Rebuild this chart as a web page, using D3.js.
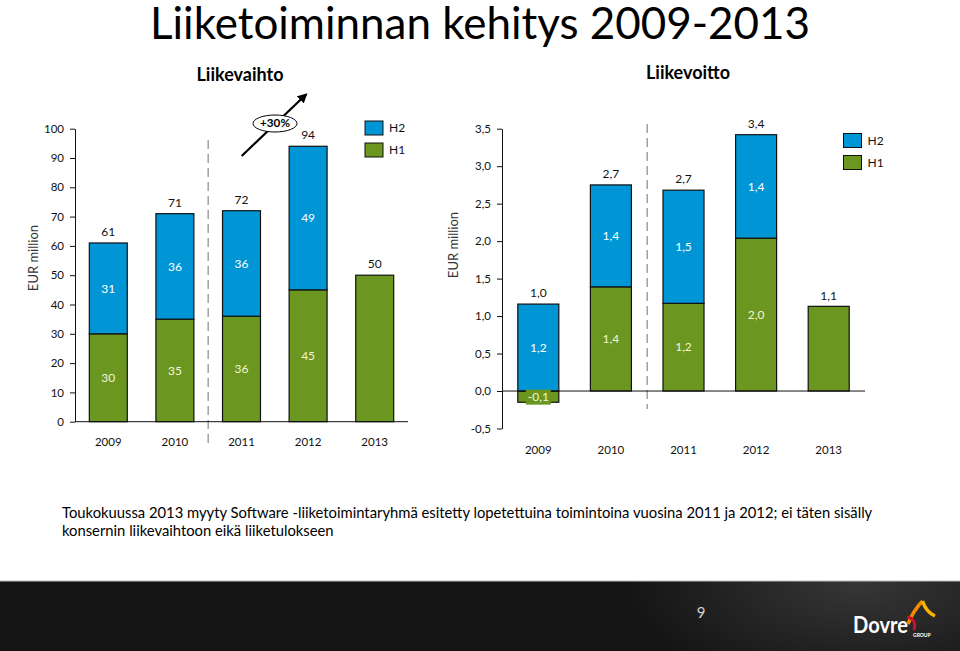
<!doctype html>
<html lang="fi">
<head>
<meta charset="utf-8">
<title>Liiketoiminnan kehitys 2009-2013</title>
<script src="https://cdn.jsdelivr.net/npm/d3@7"></script>
<style>
  html, body { margin: 0; background: #fff; }
  svg { display: block; font-family: Lato, "Open Sans", sans-serif; }
</style>
</head>
<body>
<svg id="chart" width="960" height="651"></svg>
<script>
const years = ["2009", "2010", "2011", "2012", "2013"];

// Liikevaihto, EUR million
const salesH1 = [30, 35, 36, 45, 50];
const salesH2 = [31, 36, 36, 49, 0];
const salesTicks = [0, 10, 20, 30, 40, 50, 60, 70, 80, 90, 100];

// Liikevoitto, EUR million (bar heights as drawn in the original)
const profitH1 = [-0.15, 1.39, 1.17, 2.04, 1.13];
const profitH2 = [1.16, 1.36, 1.51, 1.38, 0];
// printed labels are rounded in the original, so they are kept as text
const profitH1Labels = ["-0,1", "1,4", "1,2", "2,0", ""];
const profitH2Labels = ["1,2", "1,4", "1,5", "1,4", ""];
const profitTotalLabels = ["1,0", "2,7", "2,7", "3,4", "1,1"];
const profitTicks = [-0.5, 0, 0.5, 1, 1.5, 2, 2.5, 3, 3.5];

const BLUE = "#0096d6", GREEN = "#6b961f";
const fi = d3.formatLocale({decimal: ",", thousands: " ", grouping: [3], currency: ["", "€"], minus: "-"});

const svg = d3.select("#chart");

// stretch/shrink font-size so text spans a given width
function fitText(sel, width) {
  const fs = parseFloat(sel.attr("font-size"));
  const w = sel.node().getComputedTextLength();
  sel.attr("font-size", fs * width / w);
  return fs * width / w;
}

function drawPanel(o) {
  const g = svg.append("g");
  const x = d3.scaleBand().domain(years).range(o.xRange).paddingInner(o.pad).paddingOuter(o.pad / 2);
  const y = d3.scaleLinear().domain(o.yDomain).range(o.yRange);

  const rows = years.map((yr, i) => ({year: yr, H1: o.h1[i], H2: o.h2[i]}));
  const series = d3.stack().keys(["H1", "H2"]).offset(d3.stackOffsetDiverging)(rows);

  // dashed separator between 2010 and 2011
  const dashX = (x("2010") + x.bandwidth() + x("2011")) / 2;
  g.append("line")
      .attr("x1", dashX).attr("x2", dashX)
      .attr("y1", o.dashY[0]).attr("y2", o.dashY[1])
      .attr("stroke", "#a0a0a0").attr("stroke-width", 1.5)
      .attr("stroke-dasharray", "9,5");

  g.selectAll("g.series")
    .data(series)
    .join("g")
      .attr("class", "series")
      .attr("fill", d => d.key === "H1" ? GREEN : BLUE)
    .selectAll("rect")
    .data(d => d.filter(p => p[1] - p[0] !== 0))
    .join("rect")
      .attr("x", d => x(d.data.year))
      .attr("width", x.bandwidth())
      .attr("y", d => y(d[1]))
      .attr("height", d => y(d[0]) - y(d[1]))
      .attr("stroke", "#111")
      .attr("stroke-width", 1.2);

  // axes
  const axis = g.append("g")
      .attr("transform", `translate(${o.xRange[0]},0)`)
      .call(d3.axisLeft(y).tickValues(o.ticks).tickFormat(o.fmt).tickSize(5).tickSizeOuter(0).tickPadding(6));
  axis.selectAll("text").attr("font-size", 11.5).attr("fill", "#111");
  axis.selectAll("line, path").attr("stroke", "#111");
  axis.attr("font-family", null).attr("font-size", null);

  g.append("line")
      .attr("x1", o.xRange[0]).attr("x2", o.xRange[1])
      .attr("y1", y(0)).attr("y2", y(0))
      .attr("stroke", "#111");

  // labels inside the segments
  series.forEach((s, si) => {
    s.forEach((p, i) => {
      if (!o.h1[i] || !o.h2[i]) return;
      const label = o.segLabel(si, i);
      const cx = x(p.data.year) + x.bandwidth() / 2;
      const cy = (y(p[0]) + y(p[1])) / 2;
      if (si === 0 && o.h1[i] < 0) {
        g.append("rect")
            .attr("x", cx - 12.5).attr("y", cy - 7)
            .attr("width", 25).attr("height", 15)
            .attr("fill", GREEN);
      }
      g.append("text")
          .attr("x", cx).attr("y", cy)
          .attr("dy", "0.35em")
          .attr("text-anchor", "middle")
          .attr("font-size", 12)
          .attr("fill", si === 0 ? "#f3f5d8" : "#fff")
          .text(label);
    });
  });

  // totals above bars
  rows.forEach((r, i) => {
    const top = Math.max(r.H1, 0) + Math.max(r.H2, 0);
    g.append("text")
        .attr("x", x(r.year) + x.bandwidth() / 2)
        .attr("y", y(top) - 11)
        .attr("dy", "0.35em")
        .attr("text-anchor", "middle")
        .attr("font-size", 12)
        .attr("fill", "#111")
        .text(o.totalLabel(i));
  });

  // years
  g.selectAll("text.year")
    .data(years)
    .join("text")
      .attr("class", "year")
      .attr("x", d => x(d) + x.bandwidth() / 2)
      .attr("y", o.yearY)
      .attr("dy", "0.35em")
      .attr("text-anchor", "middle")
      .attr("font-size", 11.5)
      .attr("fill", "#111")
      .text(d => d);

  // legend
  const leg = g.append("g").attr("transform", `translate(${o.legend[0]},${o.legend[1]})`);
  [["H2", BLUE], ["H1", GREEN]].forEach(([k, c], i) => {
    leg.append("rect")
        .attr("x", 0).attr("y", i * 22)
        .attr("width", 18).attr("height", 14)
        .attr("fill", c).attr("stroke", "#111");
    leg.append("text")
        .attr("x", 24).attr("y", i * 22 + 7)
        .attr("dy", "0.35em")
        .attr("font-size", 12)
        .attr("fill", "#111")
        .text(k);
  });

  g.append("text")
      .attr("transform", `translate(${o.unit[0]},${o.unit[1]}) rotate(-90)`)
      .attr("text-anchor", "middle")
      .attr("dy", "0.35em")
      .attr("font-size", 13)
      .attr("fill", "#333")
      .text("EUR million");

  return {x, y, g};
}

const left = drawPanel({
  xRange: [75, 408], pad: 0.43,
  yDomain: [0, 100], yRange: [421.7, 128.7],
  h1: salesH1, h2: salesH2, ticks: salesTicks,
  fmt: d3.format("d"),
  segLabel: (si, i) => d3.format("d")(si === 0 ? salesH1[i] : salesH2[i]),
  totalLabel: i => d3.format("d")(salesH1[i] + salesH2[i]),
  dashY: [140, 443], yearY: 441.5,
  legend: [365, 121], unit: [33, 258]
});

drawPanel({
  xRange: [502, 865], pad: 0.435,
  yDomain: [-0.5, 3.5], yRange: [428.5, 128.7],
  h1: profitH1, h2: profitH2, ticks: profitTicks,
  fmt: fi.format(".1f"),
  segLabel: (si, i) => si === 0 ? profitH1Labels[i] : profitH2Labels[i],
  totalLabel: i => profitTotalLabels[i],
  dashY: [124, 409], yearY: 450,
  legend: [843.5, 133.5], unit: [453.5, 245]
});

// +30% growth arrow in the sales chart
svg.append("defs").append("marker")
    .attr("id", "arrowhead")
    .attr("viewBox", "0 0 10 10")
    .attr("refX", 8).attr("refY", 5)
    .attr("markerWidth", 4.5).attr("markerHeight", 4.5)
    .attr("orient", "auto")
  .append("path")
    .attr("d", "M0,0L10,5L0,10z")
    .attr("fill", "#000");

const arrow = left.g.append("g");
arrow.append("line")
    .attr("x1", 241.7).attr("y1", 156)
    .attr("x2", 306).attr("y2", 94.5)
    .attr("stroke", "#000").attr("stroke-width", 2.2)
    .attr("marker-end", "url(#arrowhead)");
arrow.append("ellipse")
    .attr("cx", 275).attr("cy", 123.5)
    .attr("rx", 22).attr("ry", 8.5)
    .attr("fill", "#fff").attr("stroke", "#000");
arrow.append("text")
    .attr("x", 275).attr("y", 123.5)
    .attr("dy", "0.35em")
    .attr("text-anchor", "middle")
    .attr("font-size", 11).attr("font-weight", "bold")
    .attr("textLength", 30).attr("lengthAdjust", "spacingAndGlyphs")
    .text("+30%");

// titles
svg.append("text")
    .attr("x", 150).attr("y", 39)
    .attr("font-size", 44).attr("font-weight", 400)
    .attr("textLength", 660).attr("lengthAdjust", "spacingAndGlyphs")
    .attr("fill", "#000")
    .text("Liiketoiminnan kehitys 2009-2013");

svg.append("text")
    .attr("x", 240).attr("y", 81)
    .attr("text-anchor", "middle")
    .attr("font-size", 18).attr("font-weight", "bold")
    .text("Liikevaihto");
svg.append("text")
    .attr("x", 688).attr("y", 79)
    .attr("text-anchor", "middle")
    .attr("font-size", 18).attr("font-weight", "bold")
    .text("Liikevoitto");

// footnote
const note1 = svg.append("text")
    .attr("x", 62).attr("y", 518)
    .attr("font-size", 15).attr("fill", "#000")
    .text("Toukokuussa 2013 myyty Software -liiketoimintaryhmä esitetty lopetettuina toimintoina vuosina 2011 ja 2012; ei täten sisälly");
const noteSize = fitText(note1, 811);
svg.append("text")
    .attr("x", 62).attr("y", 536)
    .attr("font-size", noteSize).attr("fill", "#000")
    .text("konsernin liikevaihtoon eikä liiketulokseen");

// footer band
const grad = svg.select("defs").append("radialGradient")
    .attr("id", "footerGlow")
    .attr("gradientUnits", "userSpaceOnUse")
    .attr("cx", 860).attr("cy", 585).attr("r", 240)
    .attr("gradientTransform", "translate(860,585) scale(1,0.45) translate(-860,-585)");
grad.append("stop").attr("offset", 0).attr("stop-color", "#363636");
grad.append("stop").attr("offset", 1).attr("stop-color", "#141414");

svg.append("rect")
    .attr("x", 0).attr("y", 581)
    .attr("width", 960).attr("height", 70)
    .attr("fill", "url(#footerGlow)");
svg.append("line")
    .attr("x1", 0).attr("x2", 960)
    .attr("y1", 581).attr("y2", 581)
    .attr("stroke", "#bdbdbd");

svg.append("text")
    .attr("x", 701).attr("y", 613)
    .attr("dy", "0.35em")
    .attr("text-anchor", "middle")
    .attr("font-size", 15)
    .attr("fill", "#d0d0d0")
    .text("9");

// Dovre logo
const logo = svg.append("g");
logo.append("text")
    .attr("x", 853).attr("y", 633)
    .attr("font-size", 22).attr("font-weight", "bold")
    .attr("textLength", 55).attr("lengthAdjust", "spacingAndGlyphs")
    .attr("fill", "#fff")
    .text("Dovre");
logo.append("text")
    .attr("x", 913).attr("y", 637)
    .attr("font-size", 5).attr("font-weight", "bold")
    .attr("fill", "#fff")
    .text("GROUP");
logo.append("path")
    .attr("d", "M908,624 Q913,611 922.5,601")
    .attr("fill", "none").attr("stroke", "#f08a00").attr("stroke-width", 3.5);
logo.append("path")
    .attr("d", "M922.5,601 Q926,612 935,616")
    .attr("fill", "none").attr("stroke", "#f8b500").attr("stroke-width", 3.5);
logo.append("path")
    .attr("d", "M907,617 Q917,619 914,630")
    .attr("fill", "none").attr("stroke", "#c8102e").attr("stroke-width", 3);
</script>
</body>
</html>
